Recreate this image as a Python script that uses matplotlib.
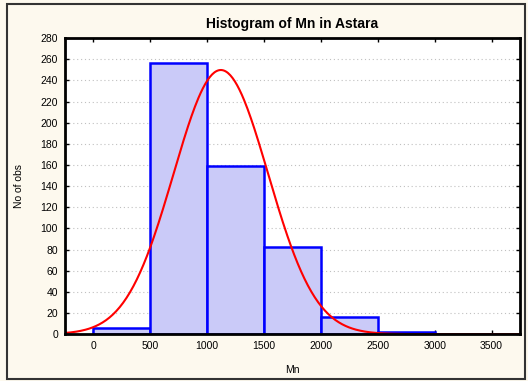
import matplotlib.pyplot as plt
import numpy as np
from matplotlib.patches import Rectangle

bin_left = [0, 500, 1000, 1500, 2000, 2500, 3000]
counts   = [6, 256, 159, 82, 16, 2, 0]
bin_width = 500
fit_mean = 1120
fit_sd   = 416

plt.rcParams['font.family'] = ['Liberation Sans', 'DejaVu Sans']

fig = plt.figure(figsize=(5.28, 3.81), dpi=100, facecolor='#fdf9ee')
fig.patches.append(Rectangle((0.013, 0.005), 0.982, 0.985, transform=fig.transFigure,
                             fill=False, edgecolor='#333333', linewidth=1.5))
ax = fig.add_axes([0.123, 0.123, 0.862, 0.777])

ax.bar(bin_left, counts, width=bin_width, align='edge', facecolor='#cacaf8',
       edgecolor='#0000ff', linewidth=1.8, zorder=2)

xs = np.linspace(-250, 3750, 400)
n = sum(counts)
ys = n * bin_width / (fit_sd * np.sqrt(2 * np.pi)) * np.exp(-0.5 * ((xs - fit_mean) / fit_sd) ** 2)
ax.plot(xs, ys, color='#ff0000', linewidth=1.5, zorder=3)

ax.set_xlim(-250, 3750)
ax.set_ylim(0, 280)
ax.set_xticks(np.arange(0, 3501, 500))
ax.set_yticks(np.arange(0, 281, 20))
ax.yaxis.grid(True, linestyle=(0, (1, 2.5)), color='#c0c0c0', linewidth=0.8, zorder=0)
ax.set_axisbelow(True)
ax.tick_params(direction='in', length=3, width=1, labelsize=7.5, top=True, right=True, pad=5)
for s in ax.spines.values():
    s.set_linewidth(2)
    s.set_color('black')
    s.set_zorder(4)

ax.set_title('Histogram of Mn in Astara', fontsize=10, fontweight='bold', pad=7)
ax.set_xlabel('Mn', fontsize=7.5, labelpad=10)
ax.set_ylabel('No of obs', fontsize=7.5, labelpad=12)

plt.savefig('out.png', dpi=100, facecolor=fig.get_facecolor())
